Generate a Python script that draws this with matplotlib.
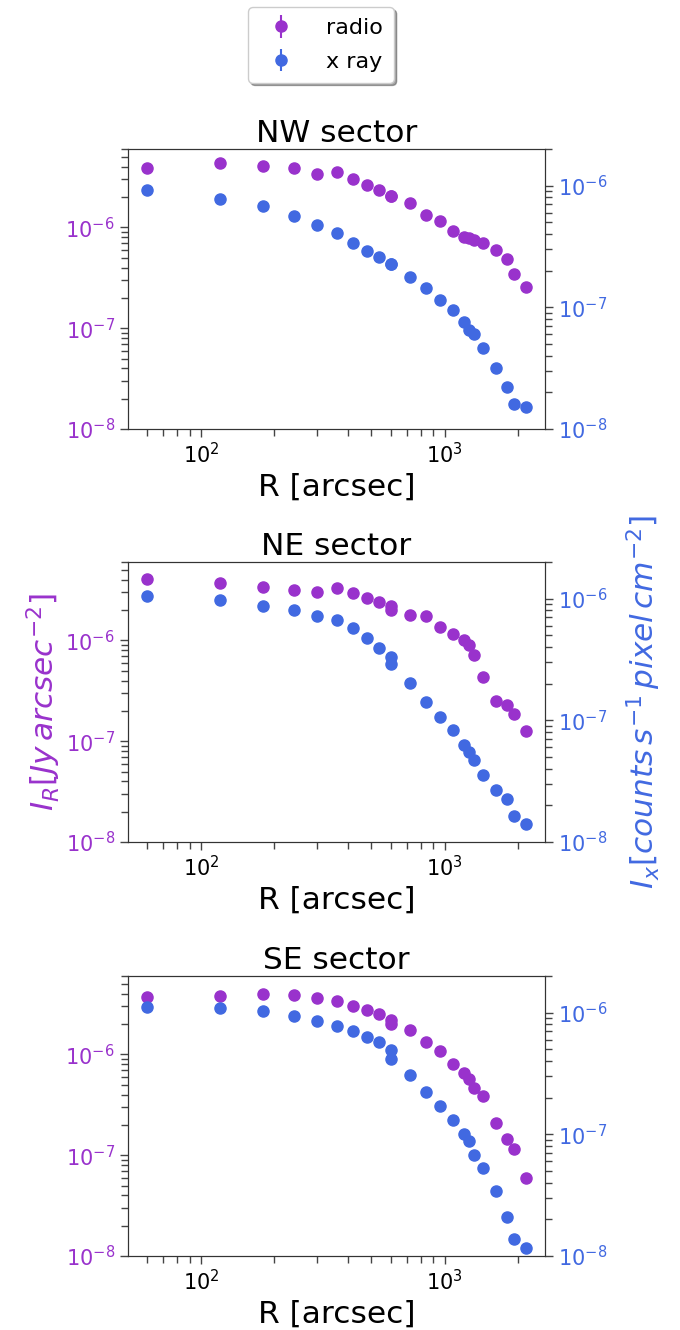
import matplotlib
matplotlib.use("Agg")
import matplotlib.pyplot as plt
from matplotlib.lines import Line2D
from matplotlib.collections import LineCollection
from matplotlib.container import ErrorbarContainer

# radial bins [arcsec]; the 600" bin appears twice in the profiles
radius = [60, 120, 180, 240, 300, 360, 420, 480, 540, 600, 600, 720, 840,
          960, 1080, 1200, 1260, 1320, 1440, 1620, 1800, 1920, 2160]

sectors = ["NW sector", "NE sector", "SE sector"]

# radio surface brightness [Jy arcsec^-2]
radio_nw = [3.88e-6, 4.32e-6, 4.04e-6, 3.85e-6, 3.41e-6, 3.52e-6, 3.02e-6, 2.65e-6,
            2.33e-6, 2.03e-6, 2.03e-6, 1.75e-6, 1.32e-6, 1.17e-6, 9.27e-7, 8.02e-7,
            7.78e-7, 7.54e-7, 6.99e-7, 5.91e-7, 4.81e-7, 3.47e-7, 2.57e-7]
radio_ne = [4.04e-6, 3.68e-6, 3.36e-6, 3.19e-6, 3.00e-6, 3.29e-6, 2.93e-6, 2.61e-6,
            2.39e-6, 2.21e-6, 2.02e-6, 1.80e-6, 1.76e-6, 1.37e-6, 1.16e-6, 1.02e-6,
            8.93e-7, 7.11e-7, 4.34e-7, 2.49e-7, 2.27e-7, 1.86e-7, 1.26e-7]
radio_se = [3.74e-6, 3.83e-6, 4.01e-6, 3.92e-6, 3.60e-6, 3.36e-6, 3.02e-6, 2.76e-6,
            2.54e-6, 2.18e-6, 2.02e-6, 1.75e-6, 1.33e-6, 1.09e-6, 8.03e-7, 6.59e-7,
            5.74e-7, 4.61e-7, 3.90e-7, 2.10e-7, 1.45e-7, 1.14e-7, 5.89e-8]

# x-ray surface brightness [counts s^-1 pixel^-1 cm^-2]
xray_nw = [9.14e-7, 7.76e-7, 6.75e-7, 5.66e-7, 4.77e-7, 4.05e-7, 3.37e-7, 2.93e-7,
           2.58e-7, 2.26e-7, 2.26e-7, 1.78e-7, 1.43e-7, 1.15e-7, 9.53e-8, 7.64e-8,
           6.53e-8, 6.09e-8, 4.64e-8, 3.20e-8, 2.23e-8, 1.61e-8, 1.53e-8]
xray_ne = [1.05e-6, 9.82e-7, 8.76e-7, 8.02e-7, 7.24e-7, 6.68e-7, 5.74e-7, 4.72e-7,
           3.93e-7, 3.29e-7, 2.92e-7, 2.04e-7, 1.42e-7, 1.07e-7, 8.27e-8, 6.27e-8,
           5.46e-8, 4.75e-8, 3.53e-8, 2.69e-8, 2.27e-8, 1.63e-8, 1.41e-8]
xray_se = [1.12e-6, 1.09e-6, 1.03e-6, 9.39e-7, 8.55e-7, 7.82e-7, 7.07e-7, 6.31e-7,
           5.70e-7, 4.93e-7, 4.19e-7, 3.09e-7, 2.24e-7, 1.71e-7, 1.32e-7, 1.00e-7,
           8.81e-8, 6.76e-8, 5.26e-8, 3.40e-8, 2.08e-8, 1.38e-8, 1.17e-8]

radio = [radio_nw, radio_ne, radio_se]
xray = [xray_nw, xray_ne, xray_se]

RADIO_C = "#9932CC"
XRAY_C = "#4169E1"
W, H = 680, 1330

fig = plt.figure(figsize=(W / 100, H / 100), dpi=100)

# axes boxes in pixels: left, top, right, bottom
boxes = [(128, 149, 545, 429), (128, 562, 545, 842), (128, 976, 545, 1256)]

for i, (l, t, r, b) in enumerate(boxes):
    rect = [l / W, 1 - b / H, (r - l) / W, (b - t) / H]
    ax = fig.add_axes(rect)
    ax2 = ax.twinx()
    ax.plot(radius, radio[i], "o", color=RADIO_C, ms=8, zorder=3)
    ax2.plot(radius, xray[i], "o", color=XRAY_C, ms=8, zorder=3)
    ax.set_xscale("log")
    ax.set_yscale("log")
    ax2.set_yscale("log")
    ax.set_ylim(1e-8, 6e-6)
    ax2.set_ylim(1e-8, 2e-6)
    ax.set_title(sectors[i], fontsize=22.5, pad=5)
    ax.set_xlabel("R [arcsec]", fontsize=22.5, labelpad=4)
    for a in (ax, ax2):
        a.tick_params(which="major", length=6, width=1, color="#444444", labelsize=15)
        a.tick_params(which="minor", length=5, width=1, color="#444444")
        for s in a.spines.values():
            s.set_color("#333333")
    ax.tick_params(axis="y", which="both", labelcolor=RADIO_C)
    ax2.tick_params(axis="y", which="both", labelcolor=XRAY_C)
    if i == 1:
        ax.set_ylabel(r"$I_R[Jy\,arcsec^{-2}]$", fontsize=22.5, color=RADIO_C, labelpad=2)
        ax2.set_ylabel(r"$I_x[counts\,s^{-1}\,pixel\,cm^{-2}]$", fontsize=22.5,
                       color=XRAY_C, labelpad=12)

# legend with errorbar-style handles
handles = []
for c, lab in ((RADIO_C, "radio"), (XRAY_C, "x ray")):
    mk = Line2D([], [], color=c, marker="o", ls="none", ms=8)
    bars = LineCollection([], colors=c, linewidths=1.5)
    handles.append(ErrorbarContainer((mk, (), (bars,)), has_yerr=True, label=lab))
fig.legend(handles=handles, labels=["radio", "x ray"], loc="upper center",
           bbox_to_anchor=(0.472, 1.003), fontsize=16, shadow=True,
           labelspacing=0.6, borderpad=0.5, handlelength=2.0, handletextpad=1.0)

fig.savefig("out.png", dpi=100)
